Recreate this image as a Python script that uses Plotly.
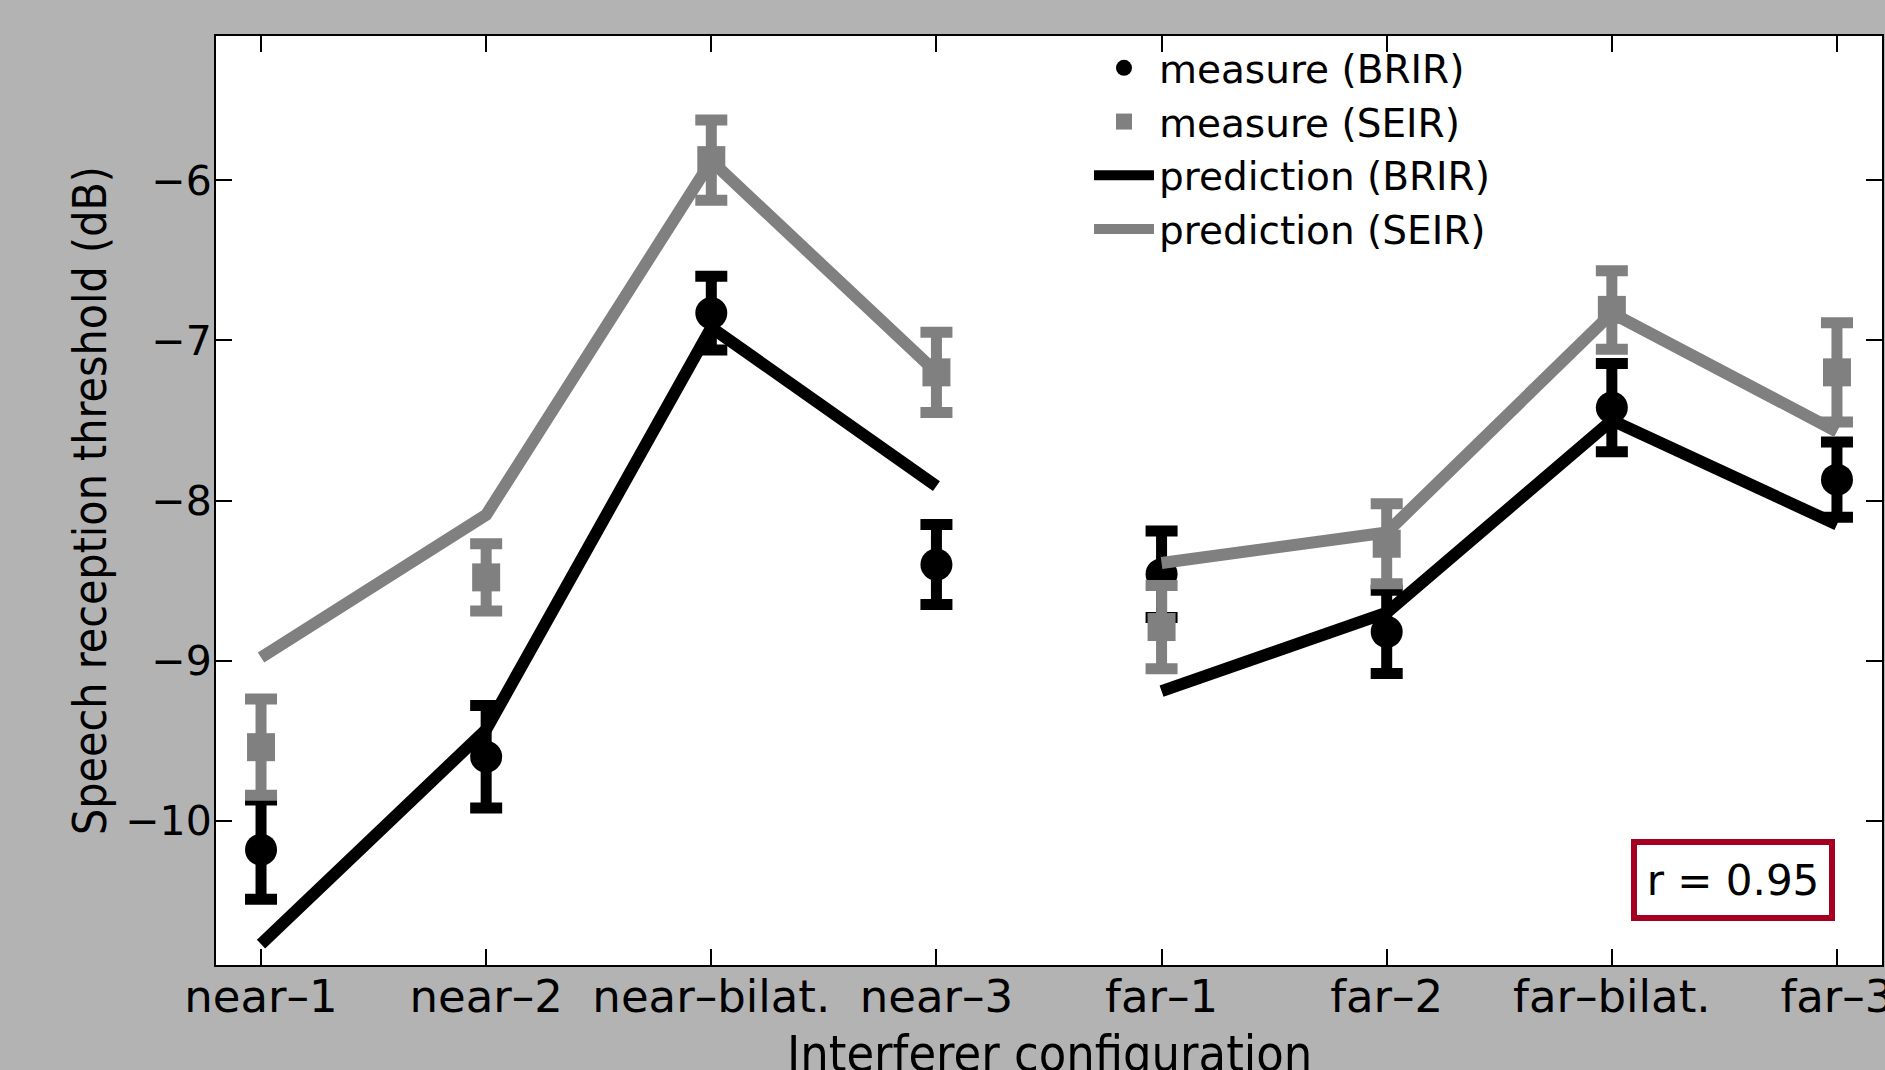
import plotly.graph_objects as go

categories = ["near\u20131", "near\u20132", "near\u2013bilat.", "near\u20133",
              "far\u20131", "far\u20132", "far\u2013bilat.", "far\u20133"]
meas_brir = [-10.18, -9.60, -6.83, -8.40, -8.46, -8.82, -7.42, -7.87]
err_brir = [0.31, 0.32, 0.23, 0.25, 0.27, 0.26, 0.275, 0.235]
meas_seir = [-9.54, -8.48, -5.875, -7.20, -8.79, -8.27, -6.81, -7.20]
err_seir = [0.30, 0.21, 0.25, 0.25, 0.26, 0.25, 0.245, 0.31]
pred_brir = [-10.77, -9.43, -6.92, -7.91, -9.19, -8.70, -7.50, -8.15]
pred_seir = [-8.98, -8.09, -5.88, -7.20, -8.39, -8.20, -6.83, -7.57]
y_ticks = [-10, -9, -8, -7, -6]
x_title = "Interferer configuration"
y_title = "Speech reception threshold (dB)"

xpos = list(range(1, len(categories) + 1))
GREY = "#808080"
BLACK = "#000000"
FONT = "DejaVu Sans"
TITLE_FONT = "Liberation Sans Narrow, DejaVu Sans Condensed, Liberation Sans"


def split_groups(vals):
    # two groups (near / far) drawn as separate line segments
    xs = xpos[:4] + [None] + xpos[4:]
    ys = vals[:4] + [None] + vals[4:]
    return xs, ys


fig = go.Figure()

fig.add_trace(go.Scatter(
    x=xpos, y=meas_brir, mode="markers", name="measure (BRIR)",
    marker=dict(symbol="circle", size=32, color=BLACK),
    error_y=dict(type="data", array=err_brir, visible=True, color=BLACK,
                 thickness=11, width=16),
))
fig.add_trace(go.Scatter(
    x=xpos, y=meas_seir, mode="markers", name="measure (SEIR)",
    marker=dict(symbol="square", size=28, color=GREY),
    error_y=dict(type="data", array=err_seir, visible=True, color=GREY,
                 thickness=11, width=16),
))
bx, by = split_groups(pred_brir)
fig.add_trace(go.Scatter(
    x=bx, y=by, mode="lines", name="prediction (BRIR)",
    line=dict(color=BLACK, width=12), connectgaps=False,
))
sx, sy = split_groups(pred_seir)
fig.add_trace(go.Scatter(
    x=sx, y=sy, mode="lines", name="prediction (SEIR)",
    line=dict(color=GREY, width=12), connectgaps=False,
))

fig.add_annotation(
    xref="paper", yref="paper", x=0.9106, y=0.0915,
    xanchor="center", yanchor="middle",
    text="r = 0.95", showarrow=False,
    font=dict(family=FONT, size=42, color=BLACK),
    bordercolor="#a50021", borderwidth=6, borderpad=4,
    bgcolor="white", width=184, height=62,
)

# x-axis title placed like the reference (sits low, partly below the edge)
fig.add_annotation(
    xref="paper", yref="paper", x=0.5, y=0, xanchor="center", yanchor="top",
    yshift=-58, text=x_title, showarrow=False,
    font=dict(family=TITLE_FONT, size=50, color=BLACK),
)

fig.update_layout(
    width=1885, height=1070,
    margin=dict(l=216, r=3, t=36, b=105),
    paper_bgcolor="#b3b3b3",
    plot_bgcolor="white",
    font=dict(family=FONT, size=42, color=BLACK),
    showlegend=True,
    legend=dict(
        x=0.524, y=1.0, xanchor="left", yanchor="top",
        bgcolor="rgba(0,0,0,0)", borderwidth=0,
        font=dict(family=FONT, size=39, color=BLACK),
        itemwidth=60, tracegroupgap=0,
    ),
    xaxis=dict(
        range=[0.8, 8.2], tickmode="array", tickvals=xpos, ticktext=categories,
        ticks="inside", ticklen=16, tickwidth=2, tickcolor=BLACK,
        showline=True, linewidth=2, linecolor=BLACK, mirror="ticks",
        showgrid=False, zeroline=False, automargin=False,
        ticklabelstandoff=-9, ticklabeloverflow="allow",
        tickfont=dict(family=FONT, size=45),
    ),
    yaxis=dict(
        range=[-10.9, -5.1], tickmode="array", tickvals=y_ticks,
        ticks="inside", ticklen=16, tickwidth=2, tickcolor=BLACK,
        showline=True, linewidth=2, linecolor=BLACK, mirror="ticks",
        showgrid=False, zeroline=False, automargin=False,
        ticklabelstandoff=-6,
        tickfont=dict(family=FONT, size=41),
        title=dict(text=y_title, standoff=4,
                   font=dict(family=TITLE_FONT, size=46)),
    ),
)

fig.write_html(
    "out.html",
    config={"displayModeBar": False},
    post_script=("document.body.style.margin='0';"
                 "document.body.style.overflow='hidden';"
                 "document.body.style.background='#b3b3b3';"),
)
